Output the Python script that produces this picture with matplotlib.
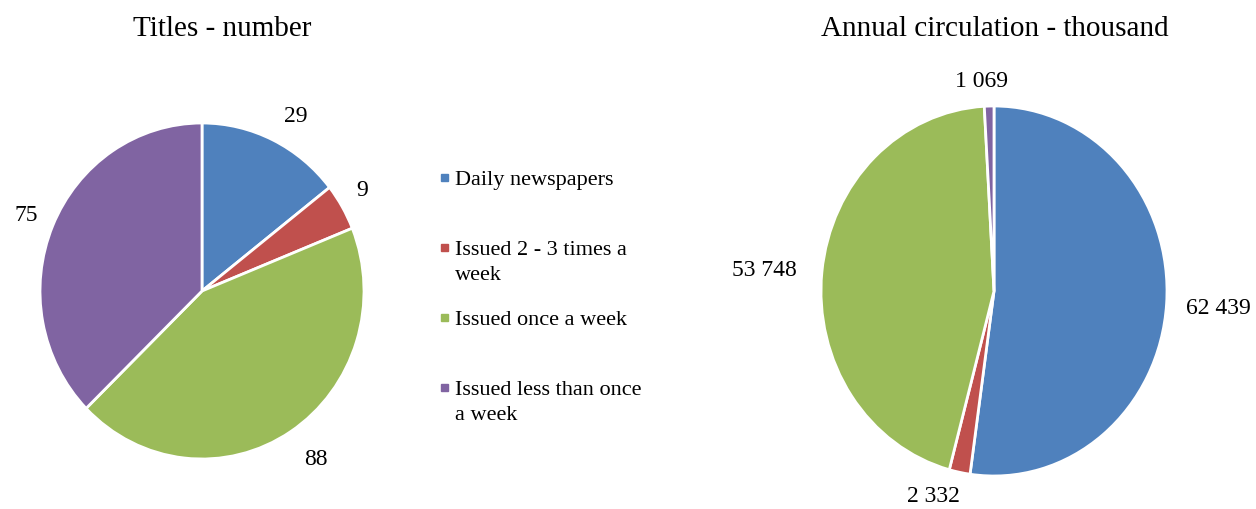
import numpy as np
import matplotlib.pyplot as plt
from matplotlib.patches import Rectangle

plt.rcParams['font.family'] = ['Liberation Serif', 'DejaVu Serif']

categories = ['Daily newspapers', 'Issued 2 - 3 times a\nweek',
              'Issued once a week', 'Issued less than once\na week']
titles_number = [29, 9, 88, 75]
circulation = [62439, 2332, 53748, 1069]
colours = ['#4F81BD', '#C0504D', '#9BBB59', '#8064A2']

W, H = 1256, 510
fig = plt.figure(figsize=(W / 100, H / 100), dpi=100)


def px_axes(x0, y0, x1, y1):
    # pixel box (top-left origin) -> figure axes
    return fig.add_axes([x0 / W, 1 - y1 / H, (x1 - x0) / W, (y1 - y0) / H])


def fmt(v):
    return '{:,}'.format(v).replace(',', ' ')


def draw_pie(ax, values, dists, nudges):
    wedges, _ = ax.pie(values, colors=colours, startangle=90,
                       counterclock=False,
                       wedgeprops={'edgecolor': 'white', 'linewidth': 2})
    ax.set_aspect('auto')
    ax.set_xlim(-1, 1)
    ax.set_ylim(-1, 1)
    ax.axis('off')
    # data labels outside the wedges (Excel "best fit" look)
    for w, v, d, n in zip(wedges, values, dists, nudges):
        ang = np.deg2rad((w.theta1 + w.theta2) / 2 + n)
        ax.text(d * np.cos(ang), d * np.sin(ang), fmt(v), fontsize=17,
                ha='center', va='center', clip_on=False)


ax1 = px_axes(40, 124, 364, 460)
draw_pie(ax1, titles_number, [1.195, 1.16, 1.22, 1.18], [-3, 1.4, 2, 0])
fig.text(222 / W, 1 - 29 / H, 'Titles - number', fontsize=21,
         ha='center', va='center')

ax2 = px_axes(821, 107, 1167, 477)
draw_pie(ax2, circulation, [1.30, 1.16, 1.335, 1.14], [0, -6, 1, 2])
fig.text(995 / W, 1 - 29 / H, 'Annual circulation - thousand',
         fontsize=21, ha='center', va='center')

# legend, Excel style: one slot of 70 px per entry
for i, (lab, col) in enumerate(zip(categories, colours)):
    ytop = 165 + i * 70
    fig.text(455 / W, 1 - (ytop + 6) / H, lab, fontsize=16, ha='left',
             va='top', linespacing=1.42)
    fig.patches.append(Rectangle((441 / W, 1 - (ytop + 17) / H),
                                 7 / W, 7 / H, color=col,
                                 transform=fig.transFigure))

fig.savefig('out.png', dpi=100, facecolor='white')
